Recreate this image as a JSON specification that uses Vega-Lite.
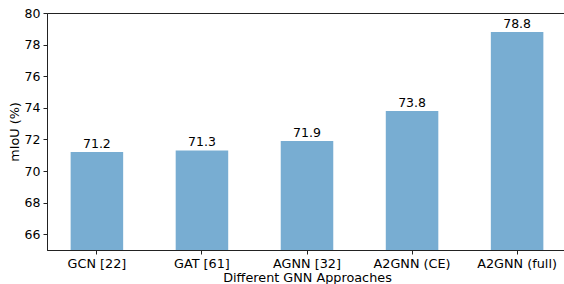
{
  "$schema": "https://vega.github.io/schema/vega-lite/v6.json",
  "autosize": "none",
  "padding": {"left": 47, "top": 13, "right": 0, "bottom": 34},
  "width": 520,
  "height": 237,
  "background": "white",
  "config": {
    "font": "DejaVu Sans",
    "view": {"stroke": "#222", "strokeWidth": 1}
  },
  "data": {
    "values": [
      {"method": "GCN [22]", "miou": 71.2},
      {"method": "GAT [61]", "miou": 71.3},
      {"method": "AGNN [32]", "miou": 71.9},
      {"method": "A2GNN (CE)", "miou": 73.8},
      {"method": "A2GNN (full)", "miou": 78.8}
    ]
  },
  "encoding": {
    "x": {
      "field": "method", "type": "nominal", "sort": null,
      "scale": {"paddingInner": 0.5, "paddingOuter": 0.225},
      "axis": {
        "title": "Different GNN Approaches", "labelAngle": 0,
        "labelFont": "DejaVu Sans", "labelFontSize": 12.8, "labelColor": "#000",
        "titleFont": "DejaVu Sans", "titleFontSize": 12.8, "titleFontWeight": "normal", "titleColor": "#000",
        "titlePadding": 2, "labelPadding": 3,
        "tickSize": 4, "tickColor": "#222", "domainColor": "#222"
      }
    },
    "y": {
      "field": "miou", "type": "quantitative",
      "scale": {"domain": [65, 80], "nice": false, "zero": false},
      "axis": {
        "title": "mIoU (%)", "values": [66, 68, 70, 72, 74, 76, 78, 80], "grid": false,
        "labelFont": "DejaVu Sans", "labelFontSize": 12.5, "labelColor": "#000",
        "titleFont": "DejaVu Sans", "titleFontSize": 12.8, "titleFontWeight": "normal", "titleColor": "#000",
        "titlePadding": 3, "labelPadding": 3,
        "tickSize": 4, "tickColor": "#222", "domainColor": "#222"
      }
    }
  },
  "layer": [
    {"mark": {"type": "bar", "color": "#78add2", "clip": true}},
    {
      "mark": {"type": "text", "baseline": "bottom", "dy": -1, "fontSize": 12.5, "font": "DejaVu Sans", "color": "#000"},
      "encoding": {"text": {"field": "miou", "type": "quantitative", "format": ".1f"}}
    }
  ]
}
